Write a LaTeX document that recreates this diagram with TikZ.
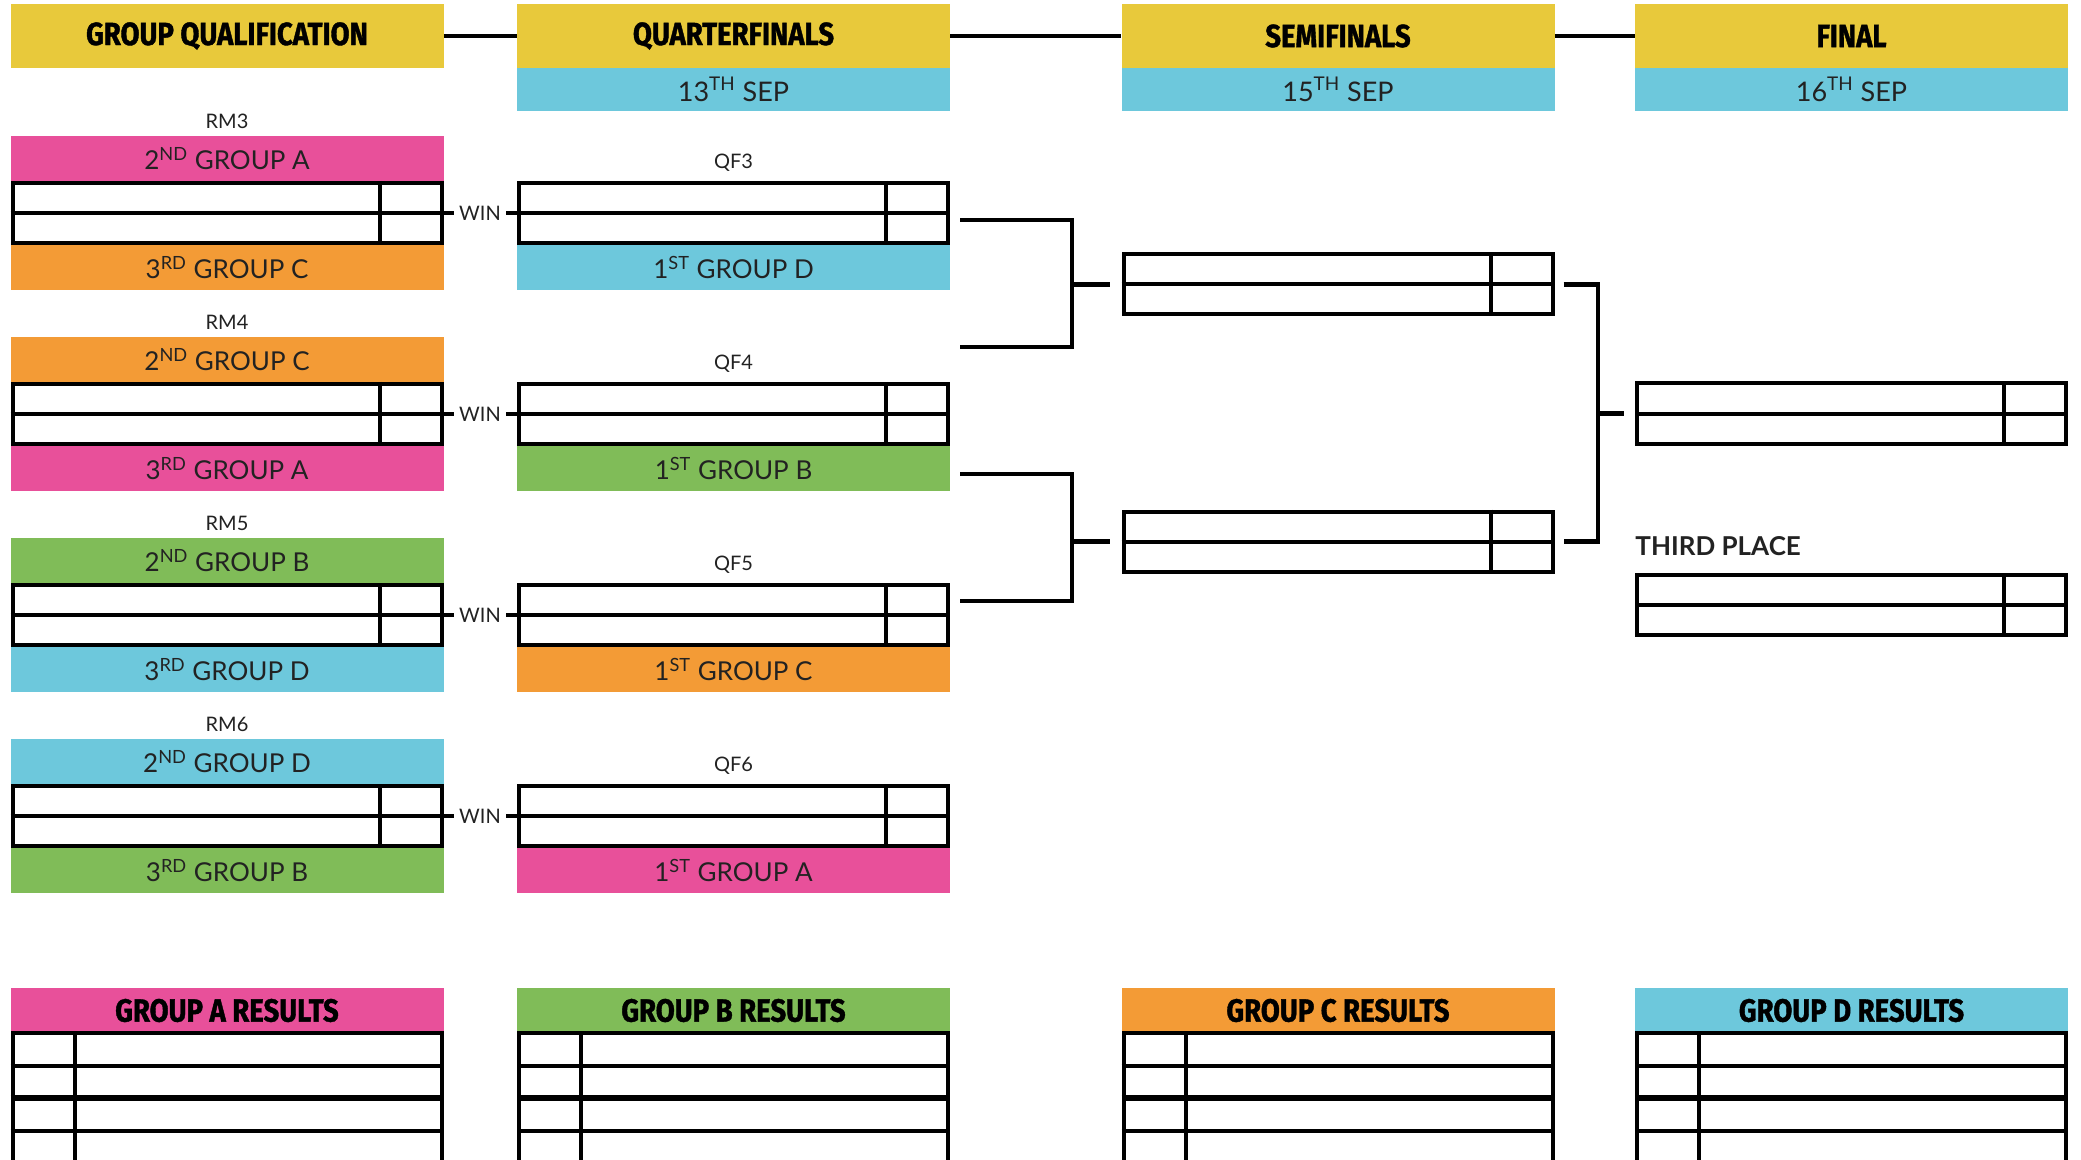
\documentclass[tikz,border=0pt]{standalone}
\usepackage{fontspec}
\setmainfont{Lato}
\newfontfamily\headfont[FakeStretch=0.86, FakeBold=1.2]{Fira Sans}
\definecolor{hdyellow}{HTML}{E8C93B}
\definecolor{skyblue}{HTML}{6DC8DC}
\definecolor{pinkish}{HTML}{E8509A}
\definecolor{orangey}{HTML}{F39B36}
\definecolor{greenish}{HTML}{80BC58}
\definecolor{txtgray}{HTML}{222222}
\tikzset{
  headbar/.style={fill=hdyellow, minimum width=216.5pt, minimum height=32pt, inner sep=0pt,
    font=\headfont\bfseries\fontsize{16}{18}\selectfont},
  datebar/.style={fill=skyblue, minimum width=216.5pt, minimum height=21.5pt, inner sep=0pt,
    text=txtgray, font=\fontsize{13.5}{15}\selectfont},
  teambar/.style={minimum width=216.5pt, minimum height=22.5pt, inner sep=0pt,
    text=txtgray, font=\fontsize{13}{15}\selectfont},
  tablehead/.style={minimum width=216.5pt, minimum height=22.5pt, inner sep=0pt,
    font=\headfont\bfseries\fontsize{16}{18}\selectfont},
  scorebox/.style={draw, line width=2pt, minimum width=214.5pt, minimum height=30pt, inner sep=0pt},
  tablebox/.style={draw, line width=2pt, minimum width=214.5pt, minimum height=65pt, inner sep=0pt},
  boxline/.style={line width=2pt},
  bracketline/.style={line width=2.3pt},
  smalllabel/.style={text=txtgray, inner sep=2.5pt, font=\fontsize{10}{12}\selectfont},
}
\begin{document}
\begin{tikzpicture}[x=0.5pt, y=-0.5pt]
  \useasboundingbox (0,0) rectangle (2081,1160);
  % Round headers
  \node[headbar] (gq) at (227,36) {GROUP QUALIFICATION};
  \node[headbar] (qfh) at (733.5,36) {QUARTERFINALS};
  \node[headbar] (sfh) at (1338,36) {SEMIFINALS};
  \node[headbar] (fh) at (1851.5,36) {FINAL};
  \draw[bracketline] (gq.east) -- (qfh.west);
  \draw[bracketline] (qfh.east) -- (sfh.west);
  \draw[bracketline] (sfh.east) -- (fh.west);
  % Dates
  \node[datebar] (d13) at (733.5,89.5) {13\textsuperscript{TH} SEP};
  \node[datebar] (d15) at (1338,89.5) {15\textsuperscript{TH} SEP};
  \node[datebar] (d16) at (1851.5,89.5) {16\textsuperscript{TH} SEP};

  % RM3 and QF3
  \node[smalllabel] (lrm3) at (227,121.5) {RM3};
  \node[teambar, fill=pinkish] (rm3a) at (227,158.5) {2\textsuperscript{ND} GROUP A};
  \node[scorebox] (rm3) at (227,213) {};
  \node[teambar, fill=orangey] (rm3b) at (227,267.5) {3\textsuperscript{RD} GROUP C};
  \node[smalllabel] (lqf3) at (733.5,163) {QF3};
  \node[scorebox] (qf3) at (733.5,213) {};
  \node[teambar, fill=skyblue] (qf3b) at (733.5,267.5) {1\textsuperscript{ST} GROUP D};
  \node[smalllabel] (win3) at (480,213) {WIN};
  % RM4 and QF4
  \node[smalllabel] (lrm4) at (227,322.5) {RM4};
  \node[teambar, fill=orangey] (rm4a) at (227,359.5) {2\textsuperscript{ND} GROUP C};
  \node[scorebox] (rm4) at (227,414) {};
  \node[teambar, fill=pinkish] (rm4b) at (227,468.5) {3\textsuperscript{RD} GROUP A};
  \node[smalllabel] (lqf4) at (733.5,364) {QF4};
  \node[scorebox] (qf4) at (733.5,414) {};
  \node[teambar, fill=greenish] (qf4b) at (733.5,468.5) {1\textsuperscript{ST} GROUP B};
  \node[smalllabel] (win4) at (480,414) {WIN};
  % RM5 and QF5
  \node[smalllabel] (lrm5) at (227,523.5) {RM5};
  \node[teambar, fill=greenish] (rm5a) at (227,560.5) {2\textsuperscript{ND} GROUP B};
  \node[scorebox] (rm5) at (227,615) {};
  \node[teambar, fill=skyblue] (rm5b) at (227,669.5) {3\textsuperscript{RD} GROUP D};
  \node[smalllabel] (lqf5) at (733.5,565) {QF5};
  \node[scorebox] (qf5) at (733.5,615) {};
  \node[teambar, fill=orangey] (qf5b) at (733.5,669.5) {1\textsuperscript{ST} GROUP C};
  \node[smalllabel] (win5) at (480,615) {WIN};
  % RM6 and QF6
  \node[smalllabel] (lrm6) at (227,724.5) {RM6};
  \node[teambar, fill=skyblue] (rm6a) at (227,761.5) {2\textsuperscript{ND} GROUP D};
  \node[scorebox] (rm6) at (227,816) {};
  \node[teambar, fill=greenish] (rm6b) at (227,870.5) {3\textsuperscript{RD} GROUP B};
  \node[smalllabel] (lqf6) at (733.5,766) {QF6};
  \node[scorebox] (qf6) at (733.5,816) {};
  \node[teambar, fill=pinkish] (qf6b) at (733.5,870.5) {1\textsuperscript{ST} GROUP A};
  \node[smalllabel] (win6) at (480,816) {WIN};

  % Semifinals, final, third place
  \node[scorebox] (sf1) at (1338,284.5) {};
  \node[scorebox] (sf2) at (1338,541.5) {};
  \node[scorebox] (fin) at (1851.5,413.5) {};
  \node[text=txtgray, inner sep=0pt, anchor=base west, font=\bfseries\fontsize{13}{15}\selectfont]
    (thirdlbl) at (1635,555) {THIRD PLACE};
  \node[scorebox] (third) at (1851.5,605) {};

  % Two rows and a score column in every match box
  \draw[boxline] (rm3.west) -- (rm3.east) ([xshift=-32pt]rm3.north east) -- ([xshift=-32pt]rm3.south east);
  \draw[boxline] (rm4.west) -- (rm4.east) ([xshift=-32pt]rm4.north east) -- ([xshift=-32pt]rm4.south east);
  \draw[boxline] (rm5.west) -- (rm5.east) ([xshift=-32pt]rm5.north east) -- ([xshift=-32pt]rm5.south east);
  \draw[boxline] (rm6.west) -- (rm6.east) ([xshift=-32pt]rm6.north east) -- ([xshift=-32pt]rm6.south east);
  \draw[boxline] (qf3.west) -- (qf3.east) ([xshift=-32pt]qf3.north east) -- ([xshift=-32pt]qf3.south east);
  \draw[boxline] (qf4.west) -- (qf4.east) ([xshift=-32pt]qf4.north east) -- ([xshift=-32pt]qf4.south east);
  \draw[boxline] (qf5.west) -- (qf5.east) ([xshift=-32pt]qf5.north east) -- ([xshift=-32pt]qf5.south east);
  \draw[boxline] (qf6.west) -- (qf6.east) ([xshift=-32pt]qf6.north east) -- ([xshift=-32pt]qf6.south east);
  \draw[boxline] (sf1.west) -- (sf1.east) ([xshift=-32pt]sf1.north east) -- ([xshift=-32pt]sf1.south east);
  \draw[boxline] (sf2.west) -- (sf2.east) ([xshift=-32pt]sf2.north east) -- ([xshift=-32pt]sf2.south east);
  \draw[boxline] (fin.west) -- (fin.east) ([xshift=-32pt]fin.north east) -- ([xshift=-32pt]fin.south east);
  \draw[boxline] (third.west) -- (third.east) ([xshift=-32pt]third.north east) -- ([xshift=-32pt]third.south east);

  % Winner lines
  \draw[boxline] (rm3.east) -- (win3.west) (win3.east) -- (qf3.west);
  \draw[boxline] (rm4.east) -- (win4.west) (win4.east) -- (qf4.west);
  \draw[boxline] (rm5.east) -- (win5.west) (win5.east) -- (qf5.west);
  \draw[boxline] (rm6.east) -- (win6.west) (win6.east) -- (qf6.west);

  % Brackets
  \coordinate (a3) at (960,220);
  \coordinate (a4) at (960,347);
  \coordinate (a5) at (960,474);
  \coordinate (a6) at (960,601);
  \coordinate (j1) at (1072,284.5);
  \coordinate (j2) at (1072,541.5);
  \coordinate (j3) at (1598,413.5);
  \draw[bracketline] (a3) -| (j1) |- (a4);
  \draw[bracketline] (j1) -- ([xshift=-6pt]sf1.west);
  \draw[bracketline] (a5) -| (j2) |- (a6);
  \draw[bracketline] (j2) -- ([xshift=-6pt]sf2.west);
  \draw[bracketline] ([xshift=4.5pt]sf1.east) -| (j3) |- ([xshift=4.5pt]sf2.east);
  \draw[bracketline] (j3) -- ([xshift=-5.5pt]fin.west);

  % Group results tables
  \node[tablehead, fill=pinkish] (ga) at (227,1010.5) {GROUP A RESULTS};
  \node[tablehead, fill=greenish] (gb) at (733.5,1010.5) {GROUP B RESULTS};
  \node[tablehead, fill=orangey] (gc) at (1338,1010.5) {GROUP C RESULTS};
  \node[tablehead, fill=skyblue] (gd) at (1851.5,1010.5) {GROUP D RESULTS};
  \node[tablebox] (gat) at (227,1098) {};
  \node[tablebox] (gbt) at (733.5,1098) {};
  \node[tablebox] (gct) at (1338,1098) {};
  \node[tablebox] (gdt) at (1851.5,1098) {};
  \draw[boxline] ([yshift=16pt]gat.west) -- ([yshift=16pt]gat.east) ([yshift=-16.5pt]gat.west) -- ([yshift=-16.5pt]gat.east)
    ([xshift=32pt]gat.north west) -- ([xshift=32pt]gat.south west);
  \draw[line width=2.6pt] (gat.west) -- (gat.east);
  \draw[boxline] ([yshift=16pt]gbt.west) -- ([yshift=16pt]gbt.east) ([yshift=-16.5pt]gbt.west) -- ([yshift=-16.5pt]gbt.east)
    ([xshift=32pt]gbt.north west) -- ([xshift=32pt]gbt.south west);
  \draw[line width=2.6pt] (gbt.west) -- (gbt.east);
  \draw[boxline] ([yshift=16pt]gct.west) -- ([yshift=16pt]gct.east) ([yshift=-16.5pt]gct.west) -- ([yshift=-16.5pt]gct.east)
    ([xshift=32pt]gct.north west) -- ([xshift=32pt]gct.south west);
  \draw[line width=2.6pt] (gct.west) -- (gct.east);
  \draw[boxline] ([yshift=16pt]gdt.west) -- ([yshift=16pt]gdt.east) ([yshift=-16.5pt]gdt.west) -- ([yshift=-16.5pt]gdt.east)
    ([xshift=32pt]gdt.north west) -- ([xshift=32pt]gdt.south west);
  \draw[line width=2.6pt] (gdt.west) -- (gdt.east);
\end{tikzpicture}
\end{document}
